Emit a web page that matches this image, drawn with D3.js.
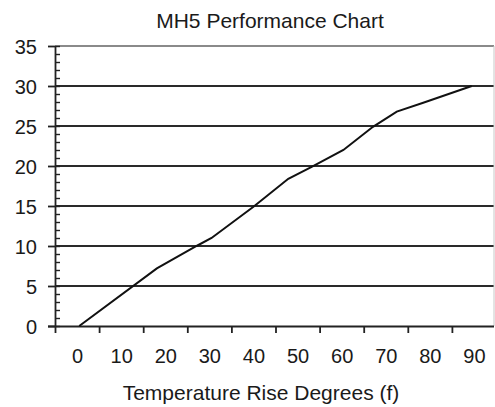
<!DOCTYPE html>
<html><head><meta charset="utf-8">
<script src="https://cdn.jsdelivr.net/npm/d3@7"></script>
<style>body{margin:0;background:#fff}svg{display:block;font-family:"Liberation Sans",Arial,sans-serif}</style>
</head><body><svg id="c" width="495" height="407"></svg>
<script>
const temps = [0.5, 18.1, 27.1, 30.5, 40, 47.9, 53.2, 60.4, 67.1, 72.5, 78.5, 89.5];
const gpm   = [0, 7.2, 10, 11, 14.9, 18.4, 19.9, 22, 24.9, 26.8, 27.9, 30];
const xLabels = [0,10,20,30,40,50,60,70,80,90];
const yTicks = [0,5,10,15,20,25,30,35];
const title = "MH5 Performance Chart";
const xTitle = "Temperature Rise Degrees (f)";

const svg = d3.select("#c");
const x = d3.scaleLinear().domain([-5,95]).range([55,496]);
const y = d3.scaleLinear().domain([0,35]).range([326,46]);

// gridlines
svg.append("g").selectAll("line").data(yTicks.filter(d=>d>0)).join("line")
  .attr("x1",55).attr("x2",494).attr("y1",d=>y(d)).attr("y2",d=>y(d))
  .attr("stroke",d=>d===35?"#8a8a8a":"#2a2a2a").attr("stroke-width",1.9);
// right border
svg.append("line").attr("x1",494).attr("x2",494).attr("y1",46).attr("y2",326)
  .attr("stroke","#c8c8c8").attr("stroke-width",1);

// y minor ticks
svg.append("g").attr("transform","translate(55,0)")
  .call(d3.axisRight(y).tickValues(d3.range(0,36,1)).tickSize(5).tickFormat(""))
  .call(g=>g.select(".domain").remove())
  .selectAll("line").attr("stroke","#222").attr("stroke-width",1.4);
// y major axis
const ya = svg.append("g").attr("transform","translate(55,0)")
  .call(d3.axisLeft(y).tickValues(yTicks).tickSize(7).tickPadding(11).tickSizeOuter(0));
ya.select(".domain").attr("stroke","#222").attr("stroke-width",1.8);
ya.selectAll("line").attr("stroke","#222").attr("stroke-width",1.8);
ya.selectAll("text").attr("font-size",20).attr("fill","#1a1a1a").attr("font-family","Liberation Sans, Arial, sans-serif").attr("dy","0.38em");

// x axis ticks (category boundaries)
const xa = svg.append("g").attr("transform","translate(0,326)")
  .call(d3.axisBottom(x).tickValues(d3.range(-5,96,10)).tickSize(7).tickFormat("").tickSizeOuter(0));
xa.select(".domain").attr("d","M48,0.5H494").attr("stroke","#222").attr("stroke-width",1.8);
xa.selectAll("line").attr("stroke","#222").attr("stroke-width",1.8);
// x labels
const xl = svg.append("g").attr("transform","translate(0,326)")
  .call(d3.axisBottom(x).tickValues(xLabels).tickSize(0).tickPadding(23));
xl.select(".domain").remove();
xl.selectAll("text").attr("font-size",20).attr("fill","#1a1a1a").attr("font-family","Liberation Sans, Arial, sans-serif");

// line
svg.append("path").datum(temps.map((t,i)=>[t,gpm[i]]))
  .attr("fill","none").attr("stroke","#111").attr("stroke-width",2)
  .attr("d",d3.line().x(d=>x(d[0])).y(d=>y(d[1])));

svg.append("text").attr("x",270).attr("y",28).attr("text-anchor","middle")
  .attr("font-size",21).attr("fill","#1a1a1a").text(title);
svg.append("text").attr("x",261).attr("y",400).attr("text-anchor","middle")
  .attr("font-size",21).attr("fill","#1a1a1a").text(xTitle);
</script></body></html>
